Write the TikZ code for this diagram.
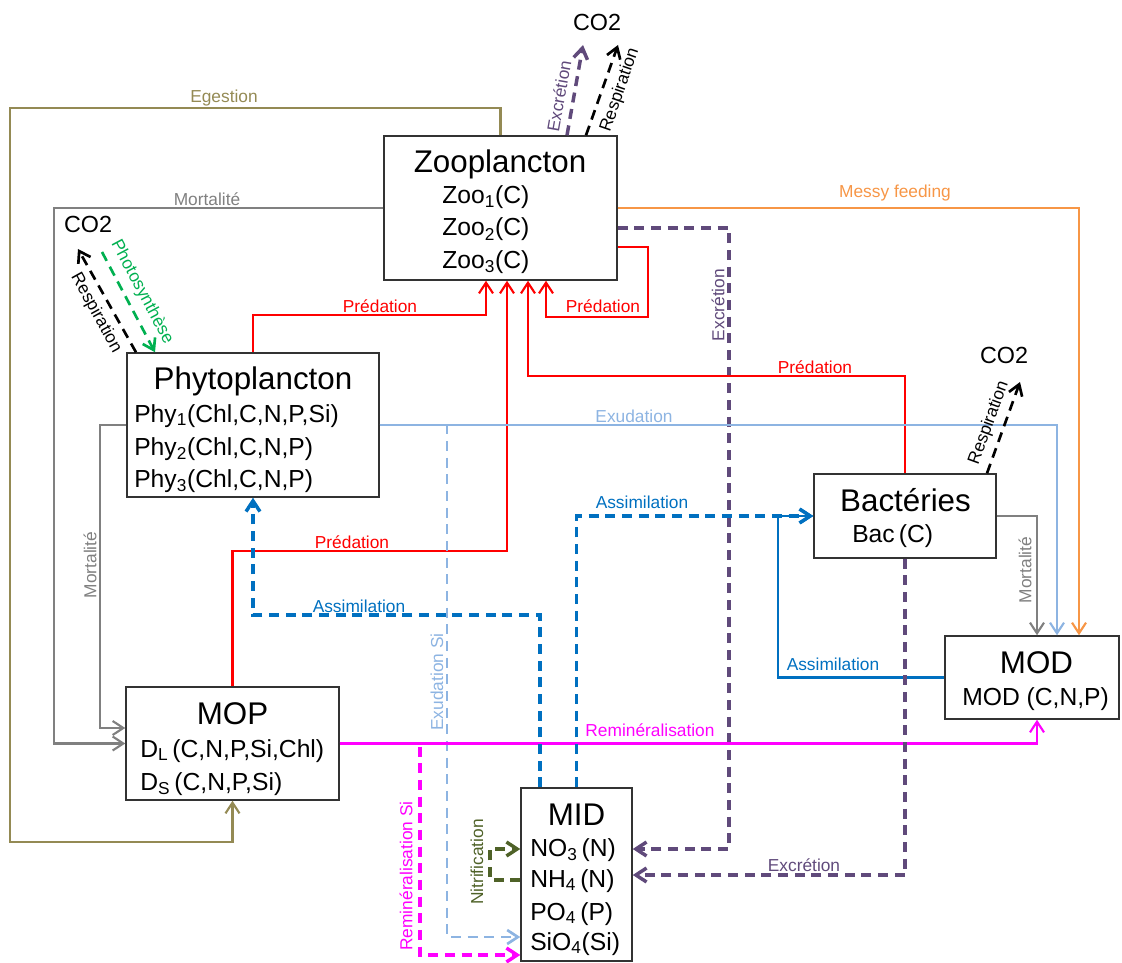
\documentclass[tikz,border=0pt]{standalone}
\usepackage{fontspec}
\setmainfont{Liberation Sans}
\usepackage{xcolor}
\usepackage{tikz}
\usetikzlibrary{arrows.meta}
\definecolor{olv}{HTML}{948A54}
\definecolor{gry}{HTML}{808080}
\definecolor{rd}{HTML}{FF0000}
\definecolor{org}{HTML}{F79646}
\definecolor{prp}{HTML}{604A7B}
\definecolor{sky}{HTML}{8DB4E2}
\definecolor{blu}{HTML}{0070C0}
\definecolor{mag}{HTML}{FF00FF}
\definecolor{grn}{HTML}{00B050}
\definecolor{moss}{HTML}{4F6228}

\begin{document}
\begin{tikzpicture}[
  x=0.75pt, y=-0.75pt,
  box/.style={draw=black!80, line width=1.1pt, fill=white, inner sep=0pt},
  ttl/.style={font=\fontsize{23.5}{26}\selectfont, anchor=base, inner sep=0pt},
  itm/.style={font=\fontsize{18.5}{22}\selectfont, anchor=base west, inner sep=0pt},
  lbl/.style={font=\fontsize{13}{15}\selectfont, inner sep=1pt},
  gas/.style={font=\fontsize{17.5}{20}\selectfont, inner sep=0pt},
  flow/.style={-{Straight Barb[length=8pt,width=10.5pt]}, line width=1.6pt},
  dsh/.style={line width=2.6pt, dash pattern=on 7.5pt off 5pt}
]
  \useasboundingbox (0,0) rectangle (1122,963);

  % compartments
  \node[box, minimum width=174.75pt, minimum height=108pt] (zoo) at (500.5,208) {};
  \node[box, minimum width=189pt, minimum height=108pt] (phy) at (253,425) {};
  \node[box, minimum width=159.75pt, minimum height=84.75pt] (mop) at (232.5,743.5) {};
  \node[box, minimum width=83.25pt, minimum height=129.75pt] (mid) at (576.5,874.5) {};
  \node[box, minimum width=136.5pt, minimum height=63pt] (bac) at (905,516) {};
  \node[box, minimum width=130.5pt, minimum height=62.25pt] (mod) at (1032,677.5) {};

  % box contents
  \node[ttl] (zooT) at (500,173) {Zooplancton};
  \foreach \i/\yb in {1/204,2/236,3/268}
    \node[itm] (zoo\i) at (442,\yb) {Zoo\textsubscript{\i}(C)};
  \node[ttl] (phyT) at (253,389) {Phytoplancton};
  \node[itm] (phy1) at (134,422) {Phy\textsubscript{1}(Chl,C,N,P,Si)};
  \node[itm] (phy2) at (134,455) {Phy\textsubscript{2}(Chl,C,N,P)};
  \node[itm] (phy3) at (134,487) {Phy\textsubscript{3}(Chl,C,N,P)};
  \node[ttl] (mopT) at (232.5,724) {MOP};
  \node[itm] (mopL) at (140,757) {D\textsubscript{L}\,(C,N,P,Si,Chl)};
  \node[itm] (mopS) at (140,790) {D\textsubscript{S}\,(C,N,P,Si)};
  \node[ttl] (midT) at (576.5,825) {MID};
  \node[itm] (no3) at (530,856) {NO\textsubscript{3}\,(N)};
  \node[itm] (nh4) at (530,887) {NH\textsubscript{4}\,(N)};
  \node[itm] (po4) at (530,920) {PO\textsubscript{4}\,(P)};
  \node[itm] (sio4) at (530,950) {SiO\textsubscript{4}(Si)};
  \node[ttl] (bacT) at (905.5,511) {Bactéries};
  \node[itm] (bacC) at (852,542) {Bac\,(C)};
  \node[ttl] (modT) at (1036.5,673) {MOD};
  \node[itm] (modC) at (962,705) {MOD (C,N,P)};

  % CO2 sinks
  \node[gas] (co2z) at (597,22) {CO2};
  \node[gas] (co2p) at (88,224) {CO2};
  \node[gas] (co2b) at (1004,355) {CO2};
  \coordinate (zexc) at (583,45);
  \coordinate (zres) at (618,45);
  \coordinate (pres) at (78,249);
  \coordinate (phot) at (102,252);
  \coordinate (bres) at (1020,382);

  % zooplankton outputs
  \draw[flow, olv] (zoo.north) -- ++(0,-27) -| (10,842) -| (mop.south);
  \draw[flow, gry] (zoo.west) -| (54,743.5) -- (mop.west);
  \draw[flow, org] (zoo.east) -| (mod.north -| 1079,0);
  \draw[flow, prp, dsh] (zoo.east |- 0,228) -| (729,849) -- (mid.east |- 0,849);
  \draw[flow, prp, dsh] (zoo.north -| 567,0) -- (zexc);
  \draw[flow, black, dsh, line width=2pt] (zoo.north -| 586,0) -- (zres);

  % predation
  \draw[flow, rd] (phy.north) |- (486,315) -- (zoo.south -| 486,0);
  \draw[flow, rd] (mop.north) |- (507,551) -- (zoo.south -| 507,0);
  \draw[flow, rd] (bac.north) |- (528,376) -- (zoo.south -| 528,0);
  \draw[flow, rd] (zoo.east |- 0,247) -| (648,317) -| (zoo.south -| 546,0);

  % phytoplankton
  \draw[flow, black, dsh, line width=2pt] (phy.north -| 136,0) -- (pres);
  \draw[flow, grn, dsh, line width=2pt] (phot) -- (phy.north -| 155,0);
  \draw[flow, gry] (phy.west) -| (100,728) -- (mop.west |- 0,728);
  \draw[flow, sky] (phy.east) -| (mod.north -| 1057,0);
  \draw[flow, sky, dsh, line width=2pt] (phy.east) -| (447,937) -- (mid.west |- 0,937);

  % detritus
  \draw[flow, mag] (mop.east) -| (mod.south -| 1037,0);
  \draw[flow, mag, dsh] (mop.east) -| (420,955) -- (mid.west |- 0,955);

  % nutrients
  \draw[flow, blu, dsh] (mid.north -| 540,0) |- (253,615) -- (phy.south);
  \draw[flow, blu, dsh] (mid.north) |- (bac.west);
  \draw[flow, moss, dsh] (mid.west |- 0,880) -| (490,849) -- (mid.west |- 0,849);

  % bacteria
  \draw[flow, blu] (mod.west) -| (778,516) -- (bac.west);
  \draw[flow, gry] (bac.east) -| (mod.north -| 1037,0);
  \draw[flow, prp, dsh] (bac.south) |- (mid.east |- 0,875);
  \draw[flow, black, dsh, line width=2pt] (bac.north -| 987,0) -- (bres);

  % flux labels
  \node[lbl, olv] (egL) at (224,98) {Egestion};
  \node[lbl, gry] (mozL) at (207,199) {Mortalité};
  \node[lbl, gry, rotate=90] (mopML) at (90,565) {Mortalité};
  \node[lbl, gry, rotate=90] (mobL) at (1025,570) {Mortalité};
  \node[lbl, rd] (pr1L) at (380,306) {Prédation};
  \node[lbl, rd] (pr2L) at (352,542) {Prédation};
  \node[lbl, rd] (pr3L) at (815,367) {Prédation};
  \node[lbl, rd] (pr4L) at (603,306) {Prédation};
  \node[lbl, org] (msL) at (895,193) {Messy feeding};
  \node[lbl, prp, rotate=90] (ex1L) at (718,305) {Excrétion};
  \node[lbl, prp] (ex2L) at (804,865) {Excrétion};
  \node[lbl, prp, rotate=80] (ex3L) at (559,96) {Excrétion};
  \node[lbl, rotate=71] (rs1L) at (620,90) {Respiration};
  \node[lbl, rotate=-61] (rs2L) at (96,313) {Respiration};
  \node[lbl, grn, rotate=-62] (phL) at (142,292) {Photosynthèse};
  \node[lbl, rotate=70] (rs3L) at (989,423) {Respiration};
  \node[lbl, sky] (exL) at (634,416) {Exudation};
  \node[lbl, sky, rotate=90] (exSiL) at (437,682) {Exudation Si};
  \node[lbl, mag] (rmL) at (650,730) {Reminéralisation};
  \node[lbl, mag, rotate=90] (rmSiL) at (406,876) {Reminéralisation Si};
  \node[lbl, blu] (as1L) at (359,606) {Assimilation};
  \node[lbl, blu] (as2L) at (642,502) {Assimilation};
  \node[lbl, blu] (as3L) at (833,664) {Assimilation};
  \node[lbl, moss, rotate=90] (niL) at (477,862) {Nitrification};
\end{tikzpicture}
\end{document}
